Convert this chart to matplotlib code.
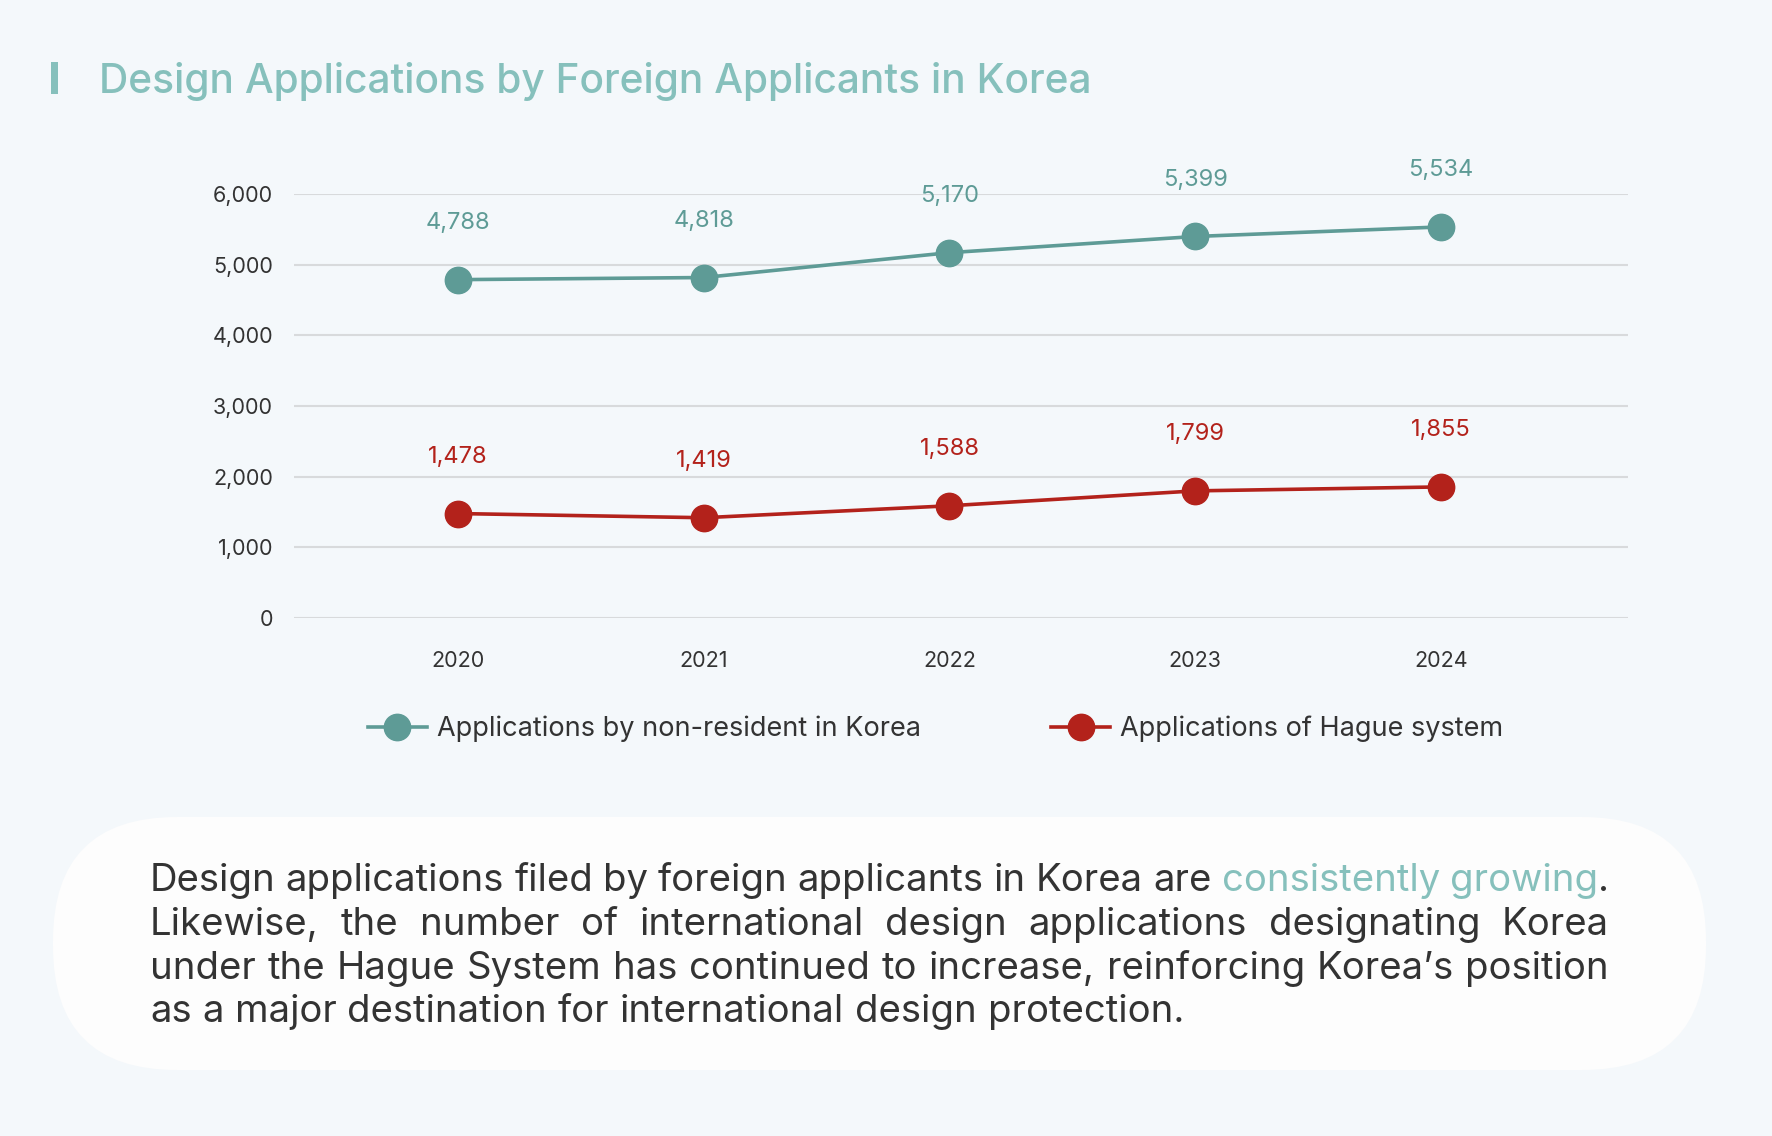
import matplotlib
matplotlib.use("Agg")
from matplotlib import pyplot as plt
from matplotlib.patches import FancyBboxPatch, Rectangle
from matplotlib.ticker import FuncFormatter

# data
years = ["2020", "2021", "2022", "2023", "2024"]
non_resident = [4788, 4818, 5170, 5399, 5534]
hague = [1478, 1419, 1588, 1799, 1855]
y_ticks = [0, 1000, 2000, 3000, 4000, 5000, 6000]

title = "Design Applications by Foreign Applicants in Korea"
label_non_resident = "Applications by non-resident in Korea"
label_hague = "Applications of Hague system"
body_lines = [
    "Design applications filed by foreign applicants in Korea are consistently growing.",
    "Likewise, the number of international design applications designating Korea",
    "under the Hague System has continued to increase, reinforcing Korea\u2019s position",
    "as a major destination for international design protection.",
]
highlight_words = {"consistently", "growing"}

W, H = 1772, 1136
BG = "#f4f8fb"
TEAL = "#5e9b96"
LIGHT_TEAL = "#86c0bc"
RED = "#b3221b"
DARK = "#333333"
GRID = "#d8dadc"

plt.rcParams["font.family"] = ["Inter", "DejaVu Sans"]

fig = plt.figure(figsize=(W / 100, H / 100), dpi=100, facecolor=BG)
renderer = fig.canvas.get_renderer()


def width_of(txt, size, **kw):
    t = fig.text(0, 0, txt, fontsize=size, **kw)
    w = t.get_window_extent(renderer).width
    t.remove()
    return w


# background axes in pixel coordinates
bg = fig.add_axes([0, 0, 1, 1])
bg.set_xlim(0, W)
bg.set_ylim(H, 0)
bg.axis("off")

# title with the small bar
bg.add_patch(Rectangle((51, 62), 7, 32, color=LIGHT_TEAL, lw=0))
title_size = 30 * 994 / width_of(title, 30, fontweight="medium")
bg.text(99, 93, title, fontsize=title_size, color=LIGHT_TEAL, fontweight="medium",
        va="baseline", ha="left")

# chart
ax = fig.add_axes([294 / W, 1 - 618 / H, (1628 - 294) / W, (618 - 194) / H])
ax.set_facecolor("none")
x = list(range(len(years)))
ax.plot(x, non_resident, color=TEAL, lw=2.6, marker="o", ms=19,
        label=label_non_resident, zorder=3, clip_on=False)
ax.plot(x, hague, color=RED, lw=2.6, marker="o", ms=19,
        label=label_hague, zorder=3, clip_on=False)

for xi, v in zip(x, non_resident):
    ax.annotate(f"{v:,}", (xi, v), xytext=(0, 33), textcoords="offset points",
                ha="center", va="bottom", fontsize=17, color=TEAL)
for xi, v in zip(x, hague):
    ax.annotate(f"{v:,}", (xi, v), xytext=(0, 33), textcoords="offset points",
                ha="center", va="bottom", fontsize=17, color=RED)

ax.set_xlim(-0.667, 4.761)
ax.set_ylim(0, 6000)
ax.set_yticks(y_ticks)
ax.yaxis.set_major_formatter(FuncFormatter(lambda v, p: f"{int(v):,}"))
ax.set_xticks(x)
ax.set_xticklabels(years)
ax.tick_params(axis="both", length=0, labelsize=15.5, labelcolor=DARK)
ax.tick_params(axis="y", pad=15)
ax.tick_params(axis="x", pad=24)
ax.grid(axis="y", color=GRID, lw=1.5)
ax.set_axisbelow(True)
for s in ax.spines.values():
    s.set_visible(False)

fig.legend(loc="center", bbox_to_anchor=(936 / W, 1 - 729 / H), ncol=2,
           frameon=False, fontsize=19.5, handlelength=2.15, handletextpad=0.4,
           columnspacing=4.8, labelcolor=DARK)

# text box
bg.add_patch(FancyBboxPatch((53, 817), 1706 - 53, 1070 - 817,
                            boxstyle="round,pad=0,rounding_size=124",
                            fc="#fdfdfd", ec="none"))

left, right = 150, 1609
baselines = [891, 935, 979, 1022]
body_size = 25 * (right - left) / width_of(body_lines[0], 25)
nat_space = width_of("a a", body_size) - width_of("aa", body_size)
for i, (line, yb) in enumerate(zip(body_lines, baselines)):
    groups = []
    for w in line.split():
        core = w.rstrip(".,")
        if core in highlight_words:
            pieces = [(core, LIGHT_TEAL)]
            if w != core:
                pieces.append((w[len(core):], DARK))
        else:
            pieces = [(w, DARK)]
        objs = [bg.text(0, yb, txt, fontsize=body_size, color=col,
                        va="baseline", ha="left") for txt, col in pieces]
        groups.append(objs)
    widths = [[t.get_window_extent(renderer).width for t in objs] for objs in groups]
    total = sum(sum(ws) for ws in widths)
    if i < len(body_lines) - 1:
        gap = (right - left - total) / (len(groups) - 1)
    else:
        gap = nat_space
    xp = left
    for objs, ws in zip(groups, widths):
        for t, wd in zip(objs, ws):
            t.set_x(xp)
            xp += wd
        xp += gap

fig.savefig("out.png", dpi=100, facecolor=BG)
